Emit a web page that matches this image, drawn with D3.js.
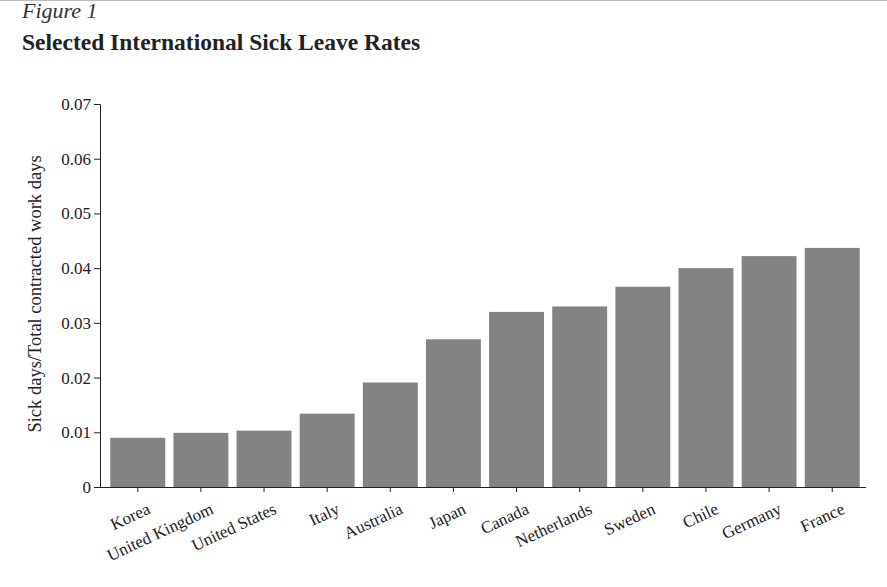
<!DOCTYPE html>
<html><head><meta charset="utf-8">
<script src="https://cdn.jsdelivr.net/npm/d3@7"></script>
<style>
body{margin:0;background:#fff;}
svg text{font-family:"Liberation Serif","DejaVu Serif",serif;}
</style></head>
<body><div id="chart"></div>
<script>
const countries = ["Korea","United Kingdom","United States","Italy","Australia","Japan","Canada","Netherlands","Sweden","Chile","Germany","France"];
const rates = [0.0090,0.0099,0.0103,0.0134,0.0191,0.0270,0.0320,0.0330,0.0366,0.0400,0.0422,0.0437];
const yTicks = [0,0.01,0.02,0.03,0.04,0.05,0.06,0.07];

const W = 887, H = 587;
const svg = d3.select("#chart").append("svg").attr("width", W).attr("height", H);

svg.append("line").attr("x1",0).attr("x2",W).attr("y1",0.5).attr("y2",0.5)
  .attr("stroke","#bbb");
svg.append("text").attr("x",22).attr("y",18).attr("font-style","italic")
  .attr("font-size",22).attr("fill","#333").text("Figure 1");
svg.append("text").attr("x",22).attr("y",50).attr("font-weight","bold")
  .attr("font-size",23.5).attr("fill","#222").text("Selected International Sick Leave Rates");

const x = d3.scaleBand().domain(countries).range([104, 866]).paddingInner(0.13).paddingOuter(0.1);
const y = d3.scaleLinear().domain([0, 0.07]).range([487, 104]);

svg.selectAll("rect.bar").data(countries).join("rect")
  .attr("class","bar")
  .attr("x", d => x(d))
  .attr("width", x.bandwidth())
  .attr("y", (d,i) => y(rates[i]))
  .attr("height", (d,i) => y(0) - y(rates[i]))
  .attr("fill","#838386");

const yAxis = svg.append("g").attr("transform","translate(100,0)")
  .call(d3.axisLeft(y).tickValues(yTicks).tickSize(6).tickFormat(d => d === 0 ? "0" : d3.format(".2f")(d)));
yAxis.selectAll("text").style("font-size","17px").style("font-family","Liberation Serif").attr("fill","#222");
yAxis.selectAll("line,path").attr("stroke","#222");

const xAxis = svg.append("g").attr("transform","translate(0,487)")
  .call(d3.axisBottom(x).tickSize(5).tickSizeOuter(0));
xAxis.select(".domain").attr("d","M100,0.5H866");
xAxis.selectAll("line,path").attr("stroke","#222");
xAxis.selectAll("text").style("font-size","17px").style("font-family","Liberation Serif").attr("fill","#222")
  .style("text-anchor","end")
  .attr("dy","0.3em")
  .attr("transform","translate(8,14) rotate(-25)");

svg.append("text").attr("transform","translate(41,294) rotate(-90)")
  .attr("text-anchor","middle").attr("font-size",18.5).attr("fill","#222")
  .text("Sick days/Total contracted work days");
</script></body></html>
